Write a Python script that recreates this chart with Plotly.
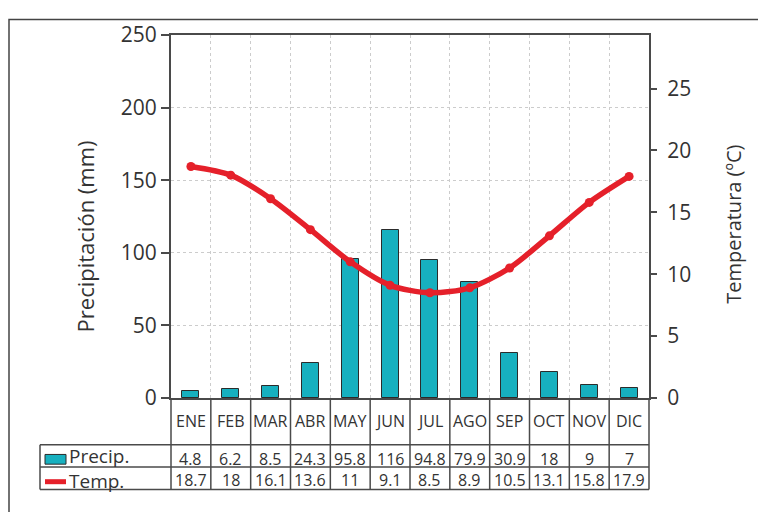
import plotly.graph_objects as go

months = ["ENE", "FEB", "MAR", "ABR", "MAY", "JUN", "JUL", "AGO", "SEP", "OCT", "NOV", "DIC"]
precip = [4.8, 6.2, 8.5, 24.3, 95.8, 116, 94.8, 79.9, 30.9, 18, 9, 7]
temp = [18.7, 18, 16.1, 13.6, 11, 9.1, 8.5, 8.9, 10.5, 13.1, 15.8, 17.9]
precip_labels = ["4.8", "6.2", "8.5", "24.3", "95.8", "116", "94.8", "79.9", "30.9", "18", "9", "7"]
temp_labels = ["18.7", "18", "16.1", "13.6", "11", "9.1", "8.5", "8.9", "10.5", "13.1", "15.8", "17.9"]
precip_ticks = [0, 50, 100, 150, 200, 250]
temp_ticks = [0, 5, 10, 15, 20, 25]

FONT = "Open Sans"
TXT = "#333333"
LINE = "#4a4a4a"
TEAL = "#17b0bf"
RED = "#e5202a"

# the page body has an 8px margin; screen geometry below is in window pixels
OFF = 8
FW, FH = 766 - OFF, 512 - OFF
L, T, W, H = 171, 25, 478, 373   # plot area on screen


def px_x(px):
    return (px - L) / W


def px_y(py):
    return (T + H - py) / H


fig = go.Figure()
fig.add_trace(go.Bar(x=months, y=precip, name="Precip.", marker=dict(color=TEAL, line=dict(color="#2b2b2b", width=1)),
                     width=0.43, yaxis="y"))
fig.add_trace(go.Scatter(x=months, y=temp, name="Temp.", mode="lines+markers",
                         line=dict(color=RED, width=5.5, shape="spline", smoothing=0.8),
                         marker=dict(color=RED, size=9), yaxis="y2"))

shapes = []
# outer frame
shapes.append(dict(type="rect", xref="paper", yref="paper", x0=px_x(9), y0=px_y(9), x1=px_x(800), y1=px_y(540),
                   line=dict(color="#444444", width=1.5), layer="below"))
n = len(months)
# table: column lines
for k in range(n + 1):
    shapes.append(dict(type="line", xref="paper", yref="paper", x0=k / n, x1=k / n, y0=px_y(398), y1=px_y(492),
                       line=dict(color=LINE, width=1.5)))
# left border of legend column
shapes.append(dict(type="line", xref="paper", yref="paper", x0=px_x(40), x1=px_x(40), y0=px_y(446), y1=px_y(492),
                   line=dict(color=LINE, width=1.5)))
for yy in [446, 469, 492]:
    shapes.append(dict(type="line", xref="paper", yref="paper", x0=px_x(40), x1=1, y0=px_y(yy), y1=px_y(yy),
                       line=dict(color=LINE, width=1.5)))
# legend swatches
shapes.append(dict(type="rect", xref="paper", yref="paper", x0=px_x(45), x1=px_x(66), y0=px_y(466), y1=px_y(456),
                   fillcolor=TEAL, line=dict(color="#2b2b2b", width=1)))
shapes.append(dict(type="line", xref="paper", yref="paper", x0=px_x(45), x1=px_x(66), y0=px_y(484), y1=px_y(484),
                   line=dict(color=RED, width=5)))

annotations = []
for m, pl, tl in zip(months, precip_labels, temp_labels):
    annotations.append(dict(x=m, xref="x", y=px_y(422), yref="paper", text=m, showarrow=False,
                            font=dict(family=FONT, size=16, color=TXT), xanchor="center", yanchor="middle"))
    annotations.append(dict(x=m, xref="x", y=px_y(461), yref="paper", text=pl, showarrow=False,
                            font=dict(family=FONT, size=16, color=TXT), xanchor="center", yanchor="middle"))
    annotations.append(dict(x=m, xref="x", y=px_y(482), yref="paper", text=tl, showarrow=False,
                            font=dict(family=FONT, size=16, color=TXT), xanchor="center", yanchor="middle"))
annotations.append(dict(x=px_x(67), xref="paper", y=px_y(458), yref="paper", text="Precip.", showarrow=False,
                        font=dict(family=FONT, size=19, color=TXT), xanchor="left", yanchor="middle"))
annotations.append(dict(x=px_x(67), xref="paper", y=px_y(483), yref="paper", text="Temp.", showarrow=False,
                        font=dict(family=FONT, size=19, color=TXT), xanchor="left", yanchor="middle"))
annotations.append(dict(x=px_x(85), xref="paper", y=px_y(232), yref="paper", text="Precipitación (mm)",
                        showarrow=False, textangle=-90, font=dict(family=FONT, size=22, color=TXT),
                        xanchor="center", yanchor="middle"))
annotations.append(dict(x=px_x(734), xref="paper", y=px_y(220), yref="paper", text="Temperatura (ºC)",
                        showarrow=False, textangle=-90, font=dict(family=FONT, size=20, color=TXT),
                        xanchor="center", yanchor="middle"))

temp_top = H / ((398 - 80) / 25)

fig.update_layout(
    width=FW, height=FH,
    margin=dict(l=L - OFF, r=FW - (L - OFF) - W, t=T - OFF, b=FH - (T - OFF) - H, pad=0),
    paper_bgcolor="white", plot_bgcolor="white",
    showlegend=False,
    font=dict(family=FONT, color=TXT),
    bargap=0,
    xaxis=dict(type="category", categoryorder="array", categoryarray=months, range=[-0.5, n - 0.5],
               tickson="boundaries", ticks="", showticklabels=False,
               showgrid=True, gridcolor="#cccccc", griddash="dot", gridwidth=1,
               showline=True, linecolor=LINE, linewidth=2, mirror=True, zeroline=False),
    yaxis=dict(range=[0, 250], tickvals=precip_ticks, ticks="outside", ticklen=8, tickwidth=1.5, tickcolor=LINE,
               tickfont=dict(family=FONT, size=21, color=TXT), showgrid=True, gridcolor="#cccccc",
               griddash="dot", gridwidth=1, showline=True, linecolor=LINE, linewidth=2, zeroline=False),
    yaxis2=dict(range=[0, temp_top], tickvals=temp_ticks, overlaying="y", side="right", ticks="outside",
                ticklen=6, tickwidth=1.5, tickcolor=LINE, ticklabelstandoff=6,
                tickfont=dict(family=FONT, size=21, color=TXT), showgrid=False,
                showline=True, linecolor=LINE, linewidth=2, zeroline=False),
    yaxis3=dict(range=[0, temp_top], tickvals=temp_ticks, overlaying="y", side="right", ticks="inside",
                ticklen=6, tickwidth=1.5, tickcolor=LINE, showticklabels=False, showgrid=False,
                showline=False, zeroline=False),
    shapes=shapes,
    annotations=annotations,
)

fig.write_html("out.html")
